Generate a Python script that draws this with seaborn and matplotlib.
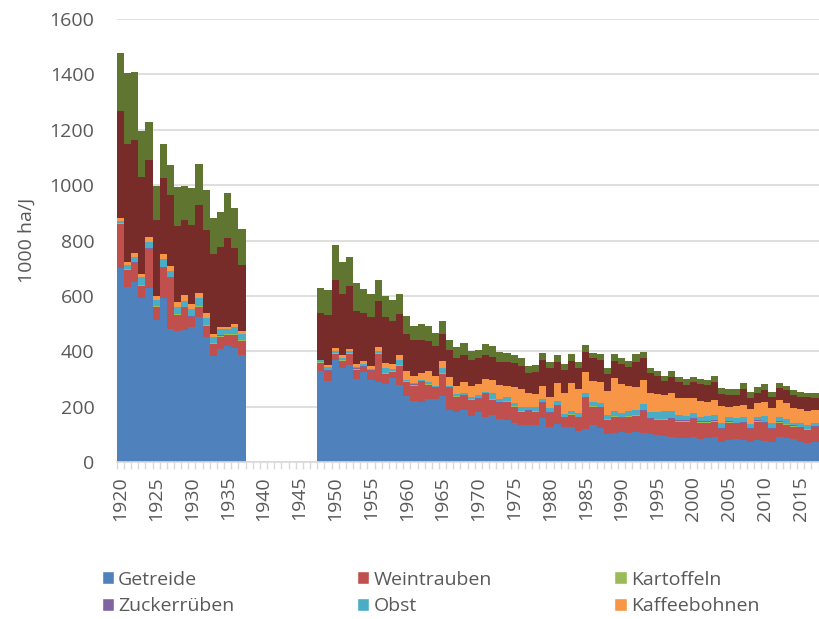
import matplotlib
matplotlib.use("Agg")
import matplotlib.pyplot as plt
from matplotlib.patches import Patch
import numpy as np
import pandas as pd
import seaborn as sns

# Flaechen in 1000 ha pro Jahr, 1938-1947 ohne Daten
years = list(range(1920, 2018))

getreide = [702, 633, 651, 591, 630, 513, 591, 479, 473, 477, 486, 522, 453, 383, 407, 419, 411, 386,
            0, 0, 0, 0, 0, 0, 0, 0, 0, 0,
            328, 294, 370, 340, 349, 299, 324, 297, 288, 283, 302, 277, 238, 219, 217, 228, 229, 240, 188, 182,
            188, 166, 182, 164, 170, 154, 152, 142, 132, 134, 134, 158, 125, 137, 125, 128, 112, 119, 134, 124,
            100, 104, 107, 104, 107, 104, 100, 98, 94, 92, 88, 85, 91, 82, 88, 91, 72, 79, 82, 79,
            73, 79, 76, 73, 91, 85, 82, 73, 67, 73]
weintrauben = [158, 60, 66, 46, 138, 48, 108, 184, 58, 78, 36, 39, 38, 43, 46, 40, 48, 51,
               0, 0, 0, 0, 0, 0, 0, 0, 0, 0,
               30, 34, 21, 26, 41, 35, 18, 31, 102, 36, 23, 71, 51, 57, 71, 50, 38, 78, 78, 54,
               50, 58, 45, 80, 54, 58, 66, 58, 50, 50, 48, 54, 51, 65, 33, 42, 46, 111, 66, 70,
               52, 60, 51, 60, 60, 80, 54, 54, 58, 62, 58, 61, 64, 60, 54, 55, 46, 63, 55, 61,
               45, 67, 64, 45, 51, 49, 46, 49, 49, 52]
kartoffeln = [3, 3, 3, 3, 3, 3, 3, 3, 3, 3, 3, 3, 3, 3, 3, 3, 3, 3,
              0, 0, 0, 0, 0, 0, 0, 0, 0, 0,
              2, 2, 2, 2, 2, 2, 2, 2, 2, 2, 2, 2, 2, 2, 2, 2, 2, 2, 2, 2,
              2, 2, 2, 2, 2, 2, 2, 2, 2, 2, 2, 2, 2, 2, 2, 2, 2, 2, 2, 2,
              2, 2, 2, 2, 2, 2, 2, 2, 2, 2, 2, 2, 2, 2, 2, 2, 2, 2, 2, 2,
              2, 2, 2, 2, 2, 2, 2, 2, 2, 2]
zuckerrueben = [1, 1, 1, 1, 1, 1, 1, 1, 1, 1, 1, 1, 1, 1, 1, 1, 1, 1,
                0, 0, 0, 0, 0, 0, 0, 0, 0, 0,
                2, 2, 2, 2, 2, 2, 2, 2, 2, 2, 2, 2, 2, 2, 2, 2, 2, 2, 2, 2,
                2, 2, 2, 2, 2, 2, 2, 2, 2, 2, 2, 2, 2, 2, 2, 2, 2, 2, 2, 2,
                2, 2, 2, 2, 2, 3, 3, 3, 3, 3, 3, 3, 3, 3, 3, 3, 3, 3, 3, 3,
                3, 3, 3, 3, 3, 3, 3, 3, 3, 3]
obst = [6, 14, 21, 26, 24, 20, 29, 24, 24, 24, 25, 26, 24, 23, 25, 19, 23, 21,
        0, 0, 0, 0, 0, 0, 0, 0, 0, 0,
        5, 10, 5, 6, 6, 5, 8, 5, 8, 17, 6, 16, 4, 7, 5, 7, 5, 18, 4, 6,
        8, 6, 11, 6, 22, 11, 12, 10, 14, 12, 11, 10, 14, 15, 12, 10, 14, 14, 12, 14,
        14, 16, 16, 16, 17, 19, 23, 25, 27, 25, 19, 16, 16, 14, 19, 19, 19, 14, 16, 16,
        14, 13, 21, 17, 14, 16, 9, 13, 13, 12]
kaffeebohnen = [12, 12, 12, 11, 18, 16, 19, 18, 18, 20, 20, 21, 18, 8, 7, 7, 11, 11,
                0, 0, 0, 0, 0, 0, 0, 0, 0, 0,
                3, 8, 12, 9, 9, 11, 10, 11, 15, 16, 19, 20, 31, 25, 25, 41, 33, 26, 34, 28,
                40, 40, 40, 45, 46, 51, 40, 56, 62, 48, 49, 49, 42, 63, 76, 100, 88, 78, 77, 78,
                86, 121, 102, 92, 84, 88, 66, 62, 58, 64, 60, 63, 54, 60, 52, 54, 60, 39, 44, 45,
                53, 48, 52, 54, 63, 59, 52, 50, 51, 46]
# zwei weitere Reihen (Legende unten abgeschnitten)
reihe_8 = [386, 425, 409, 352, 277, 273, 273, 255, 275, 271, 285, 316, 301, 289, 286, 319, 275, 238,
           0, 0, 0, 0, 0, 0, 0, 0, 0, 0,
           168, 182, 244, 223, 225, 193, 175, 177, 163, 167, 157, 147, 134, 130, 120, 108, 109, 96, 96, 100,
           96, 94, 92, 87, 84, 84, 88, 86, 85, 75, 80, 93, 102, 78, 82, 81, 74, 73, 81, 78,
           61, 60, 73, 68, 90, 78, 72, 68, 51, 60, 58, 48, 59, 61, 60, 66, 44, 42, 40, 56,
           43, 38, 42, 42, 42, 46, 48, 44, 49, 42]
reihe_9 = [208, 258, 244, 167, 138, 124, 123, 109, 142, 124, 132, 147, 144, 130, 129, 165, 144, 130,
           0, 0, 0, 0, 0, 0, 0, 0, 0, 0,
           90, 90, 127, 113, 106, 100, 87, 82, 79, 78, 75, 73, 64, 48, 56, 52, 48, 48, 37, 42,
           45, 34, 30, 40, 39, 36, 30, 30, 27, 24, 24, 27, 24, 24, 22, 24, 24, 24, 18, 21,
           21, 24, 21, 21, 27, 22, 21, 17, 19, 21, 20, 22, 19, 17, 18, 21, 20, 20, 20, 22,
           19, 22, 20, 18, 20, 14, 18, 20, 14, 18]

names = ["Getreide", "Weintrauben", "Kartoffeln", "Zuckerrüben", "Obst", "Kaffeebohnen", "Reihe 8", "Reihe 9"]
colors = ["#4F81BD", "#C0504D", "#9BBB59", "#8064A2", "#4BACC6", "#F79646", "#772C2A", "#5F7530"]
series = [getreide, weintrauben, kartoffeln, zuckerrueben, obst, kaffeebohnen, reihe_8, reihe_9]

rows = []
for name, vals in zip(names, series):
    for y, v in zip(years, vals):
        rows.append([y, name, v])
df = pd.DataFrame(rows, columns=["Jahr", "Kultur", "Wert"])

sns.set_theme(style="white")
plt.rcParams['font.family'] = ['Open Sans', 'DejaVu Sans']
grey = "#595959"

fig = plt.figure(figsize=(8.19, 6.19), dpi=100)
ax = fig.add_axes([0.1425, 0.2536, 0.857, 0.7157])

# seaborn stapelt die letzte hue-Stufe unten -> Reihenfolge umdrehen
sns.histplot(data=df, x="Jahr", weights="Wert", hue="Kultur", hue_order=names[::-1],
             palette=dict(zip(names, colors)), multiple="stack", discrete=True, shrink=1,
             alpha=1, linewidth=0, legend=False, ax=ax)

ax.set_xlim(1919.5, 2017.5)
ax.set_ylim(0, 1600)
ax.set_yticks(range(0, 1601, 200))
ax.yaxis.grid(True, color="#d9d9d9", linewidth=1.2)
ax.set_axisbelow(True)
ax.set_xticks(range(1920, 2018, 5))
ax.set_xticklabels([str(y) for y in range(1920, 2018, 5)], rotation=90)
ax.set_xticks(np.arange(1919.5, 2018, 1), minor=True)
ax.tick_params(axis="x", which="major", length=0, pad=10, labelsize=14, labelcolor=grey)
ax.tick_params(axis="x", which="minor", length=5, width=1, color="#d9d9d9", direction="out", bottom=True)
ax.tick_params(axis="y", length=0, pad=16, labelsize=14, labelcolor=grey)
for s in ["top", "right", "left"]:
    ax.spines[s].set_visible(False)
ax.spines["bottom"].set_color("#d9d9d9")
ax.spines["bottom"].set_linewidth(1.2)
ax.set_xlabel("")
ax.set_ylabel("1000 ha/J", fontsize=14, color=grey, labelpad=10)

# Legende zeilenweise wie im Original (3 Spalten)
legend_order = [0, 3, 1, 4, 2, 5]
handles = [Patch(facecolor=colors[i], label=names[i]) for i in legend_order]
fig.legend(handles=handles, ncol=3, loc="upper left", bbox_to_anchor=(0.124, 0.078),
           frameon=False, fontsize=14, labelcolor=grey, handlelength=0.65, handleheight=0.65,
           handletextpad=0.2, columnspacing=6.3, labelspacing=0.45, borderaxespad=0, borderpad=0)

fig.savefig("out.png", dpi=100)
